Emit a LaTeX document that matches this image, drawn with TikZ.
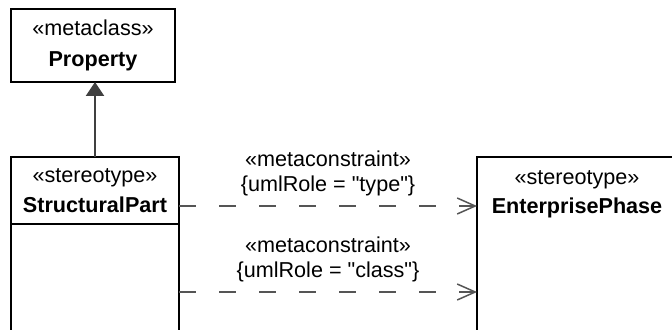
\documentclass[tikz,border=0pt]{standalone}
\usepackage{fontspec}
\setmainfont[Ligatures=TeXOff]{Liberation Sans}
\usetikzlibrary{arrows.meta,positioning}

\definecolor{linegray}{HTML}{404040}
\definecolor{depgray}{HTML}{555555}

\tikzset{
  umlbox/.style={draw=black, line width=1pt, fill=white, anchor=north west,
    align=center, inner sep=0pt, outer sep=0pt, font=\fontsize{10.8}{15}\selectfont},
  generalize/.style={draw=linegray, line width=1pt,
    -{Triangle[length=7pt, width=9pt, fill=linegray]}},
  dep/.style={draw=depgray, line width=0.75pt, dash pattern=on 8.5pt off 11.5pt,
    -{Straight Barb[length=9pt, width=8pt, line width=0.75pt]}},
  deplabel/.style={midway, above, align=center, inner sep=1pt, yshift=3.5pt,
    font=\fontsize{10.8}{12.5}\selectfont}
}

\begin{document}
\begin{tikzpicture}[x=0.5pt, y=-0.5pt]
        \useasboundingbox (0,0) rectangle (672,330);
        \clip (0,0) rectangle (672,330);

        % Metaklasa
        \node[umlbox, minimum width=82pt, minimum height=36.5pt] (prop) at (11,9)
            {«metaclass»\\[0.5pt]\textbf{Property}};

        % Stereotypy
        \node[umlbox, minimum width=84pt, minimum height=33.5pt] (part) at (11,157)
            {«stereotype»\\\textbf{StructuralPart}};
        \node[umlbox, minimum width=84pt, minimum height=68pt] (partbody) at (part.south west) {};
        \node[umlbox, minimum width=100pt, minimum height=100pt] (phase) at (477,157) {};
        \node[align=center, inner sep=0pt, font=\fontsize{10.8}{14.5}\selectfont,
            below=6.5pt of phase.north] (phasename) {«stereotype»\\\textbf{EnterprisePhase}};

        % Generalizacja
        \draw[generalize] (part.north) -- (part.north |- prop.south);

        % Metaograniczenia
        \draw[dep] ([yshift=-7.75pt]part.east) -- ([yshift=-7.75pt]part.east -| phase.west)
            node[deplabel] {«metaconstraint»\\\{umlRole = "type"\}};
        \draw[dep] (partbody.east) -- (partbody.east -| phase.west)
            node[deplabel] {«metaconstraint»\\\{umlRole = "class"\}};
\end{tikzpicture}
\end{document}
